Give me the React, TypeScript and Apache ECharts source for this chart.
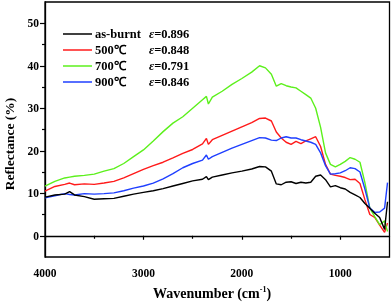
import React, { useEffect, useRef } from 'react';
import * as echarts from 'echarts';

const wavenumbers = [4000, 3900, 3800, 3750, 3700, 3600, 3500, 3400, 3300, 3200, 3100, 3000, 2900, 2800, 2700, 2600, 2500, 2400, 2360, 2340, 2300, 2200, 2100, 2000, 1900, 1820, 1760, 1700, 1650, 1600, 1550, 1500, 1450, 1400, 1350, 1300, 1250, 1200, 1150, 1100, 1050, 1000, 950, 900, 850, 800, 750, 700, 650, 600, 550, 520];

const asBurnt = [9.1, 9.6, 9.8, 10.4, 9.6, 9.2, 8.6, 8.7, 8.8, 9.3, 9.8, 10.2, 10.6, 11.1, 11.7, 12.3, 12.9, 13.3, 13.9, 13.2, 13.8, 14.3, 14.8, 15.2, 15.7, 16.3, 16.2, 15.2, 12.2, 12.0, 12.6, 12.7, 12.3, 12.6, 12.4, 12.6, 14.0, 14.3, 13.2, 11.5, 11.8, 11.3, 11.0, 10.2, 9.6, 9.0, 7.6, 6.5, 5.3, 4.3, 1.5, 8.0];

const t500 = [10.5, 11.6, 12.1, 12.4, 12.0, 12.2, 12.1, 12.4, 12.8, 13.6, 14.6, 15.6, 16.5, 17.3, 18.3, 19.4, 20.3, 21.6, 22.9, 21.5, 22.6, 23.6, 24.6, 25.6, 26.6, 27.6, 27.7, 27.0, 24.4, 23.0, 22.0, 21.5, 22.2, 21.7, 22.3, 22.8, 23.3, 21.0, 16.8, 14.5, 14.2, 14.0, 13.7, 13.2, 13.3, 12.3, 8.5, 5.0, 4.3, 2.5, 0.8, 3.0];

const t700 = [11.7, 12.8, 13.6, 13.8, 14.0, 14.2, 14.5, 15.2, 15.8, 17.0, 18.6, 20.2, 22.3, 24.5, 26.5, 28.0, 30.0, 32.0, 32.8, 31.0, 32.6, 34.0, 35.6, 37.0, 38.5, 40.0, 39.5, 38.0, 35.2, 35.8, 35.3, 35.0, 34.8, 34.0, 33.2, 32.4, 30.0, 25.5, 19.5, 16.8, 16.2, 16.8, 17.5, 18.4, 18.0, 17.3, 12.5, 6.5, 4.5, 2.6, 3.5, 1.0];

const t900 = [8.9, 9.4, 9.9, 9.7, 9.6, 9.9, 9.8, 9.9, 10.1, 10.6, 11.2, 11.7, 12.4, 13.4, 14.6, 16.0, 17.0, 17.8, 19.0, 18.0, 18.6, 19.6, 20.6, 21.5, 22.4, 23.1, 23.0, 22.5, 22.4, 23.0, 23.3, 23.0, 23.0, 22.6, 22.3, 22.0, 21.5, 19.5, 16.5, 14.5, 14.6, 14.8, 15.3, 16.0, 15.8, 15.0, 11.0, 6.5, 5.5, 5.6, 6.5, 12.5];

const seriesNames = ['as-burnt', '500℃', '700℃', '900℃'];
const emissivities = ['0.896', '0.848', '0.791', '0.846'];
const xTickLabels = [4000, 3000, 2000, 1000];
const xMinorTicks = [3500, 2500, 1500];
const yTickLabels = [0, 10, 20, 30, 40, 50];
const yMinorTicks = [5, 15, 25, 35, 45];
const colors = ['#000000', '#ff1a1a', '#5cf01c', '#1f3fff'];
const xTitle = 'Wavenumber (cm';
const xTitleSup = '-1';
const yTitle = 'Reflectance (%)';

const FONT = '"Liberation Serif", "Times New Roman", serif';

export default function App() {
  const ref = useRef<HTMLDivElement>(null);
  useEffect(() => {
    const chart = echarts.init(ref.current!, null, { renderer: 'svg' });
    const dataSets = [asBurnt, t500, t700, t900];
    const legendY = [34, 50, 66, 82];
    const graphic: any[] = [];
    seriesNames.forEach((n, i) => {
      const y = legendY[i];
      graphic.push({
        type: 'line',
        shape: { x1: 63, y1: y, x2: 92, y2: y },
        style: { stroke: colors[i], lineWidth: 1.5 },
      });
      graphic.push({
        type: 'text',
        x: 95,
        y,
        style: {
          text: n,
          fontFamily: FONT,
          fontWeight: 'bold',
          fontSize: 12.5,
          fill: '#000',
          verticalAlign: 'middle',
        },
      });
      graphic.push({
        type: 'text',
        x: 149,
        y,
        style: {
          text: '{i|ε}=' + emissivities[i],
          fontFamily: FONT,
          fontWeight: 'bold',
          fontSize: 12.5,
          fill: '#000',
          verticalAlign: 'middle',
          rich: {
            i: { fontFamily: FONT, fontStyle: 'italic', fontWeight: 'bold', fontSize: 12.5, fill: '#000' },
          },
        },
      });
    });
    graphic.push({
      type: 'text',
      x: 212,
      y: 293,
      style: {
        text: '{b|' + xTitle + '}{s|' + xTitleSup + '}{b|)}',
        align: 'center',
        verticalAlign: 'middle',
        rich: {
          b: { fontFamily: FONT, fontWeight: 'bold', fontSize: 14, fill: '#000' },
          s: { fontFamily: FONT, fontWeight: 'bold', fontSize: 8, fill: '#000', padding: [0, 0, 8, 0] },
        },
      },
    });
    graphic.push({
      type: 'text',
      x: 9,
      y: 144,
      rotation: Math.PI / 2,
      style: {
        text: yTitle,
        align: 'center',
        verticalAlign: 'middle',
        fontFamily: FONT,
        fontWeight: 'bold',
        fontSize: 13.5,
        fill: '#000',
      },
    });

    const axisCommon = {
      axisLine: { show: true, lineStyle: { color: '#000', width: 1.3 } },
      splitLine: { show: false },
    };

    chart.setOption({
      animation: false,
      grid: { left: 45, right: 2.5, top: 2, bottom: 47, show: true, borderColor: '#000', borderWidth: 1.3 },
      xAxis: [
        {
          type: 'value',
          inverse: true,
          min: 500,
          max: 4000,
          interval: 500,
          ...axisCommon,
          axisTick: { show: true, inside: false, length: 4, customValues: xTickLabels, lineStyle: { color: '#000', width: 1.2 } },
          axisLabel: {
            customValues: xTickLabels,
            formatter: (v: number) => (xTickLabels.includes(v) ? String(v) : ''),
            color: '#000',
            fontFamily: FONT,
            fontWeight: 'bold',
            fontSize: 11.5,
            margin: 10,
          },
        },
        {
          type: 'value',
          inverse: true,
          min: 500,
          max: 4000,
          interval: 500,
          position: 'bottom',
          axisLine: { show: false },
          splitLine: { show: false },
          axisLabel: { show: false },
          axisTick: { show: true, length: 3, customValues: xMinorTicks, lineStyle: { color: '#000', width: 1.2 } },
        },
      ],
      yAxis: [
        {
          type: 'value',
          min: -5,
          max: 55,
          interval: 5,
          ...axisCommon,
          axisTick: { show: true, length: 5, customValues: yTickLabels, lineStyle: { color: '#000', width: 1.2 } },
          axisLabel: {
            customValues: yTickLabels,
            formatter: (v: number) => (yTickLabels.includes(v) ? String(v) : ''),
            color: '#000',
            fontFamily: FONT,
            fontWeight: 'bold',
            fontSize: 11.5,
            margin: 6,
          },
        },
        {
          type: 'value',
          min: -5,
          max: 55,
          interval: 5,
          position: 'left',
          axisLine: { show: false },
          splitLine: { show: false },
          axisLabel: { show: false },
          axisTick: { show: true, length: 3, customValues: yMinorTicks, lineStyle: { color: '#000', width: 1.2 } },
        },
      ],
      graphic,
      series: dataSets.map((d, i) => ({
        name: seriesNames[i],
        type: 'line',
        xAxisIndex: 0,
        yAxisIndex: 0,
        data: wavenumbers.map((w, j) => [w, d[j]]),
        showSymbol: false,
        symbol: 'none',
        lineStyle: { color: colors[i], width: 1.4 },
        z: 2 + (i === 0 ? 4 : i),
      })),
    });
    return () => chart.dispose();
  }, []);
  return <div ref={ref} style={{ position: 'fixed', left: 0, top: 0, width: 392, height: 304 }} />;
}
